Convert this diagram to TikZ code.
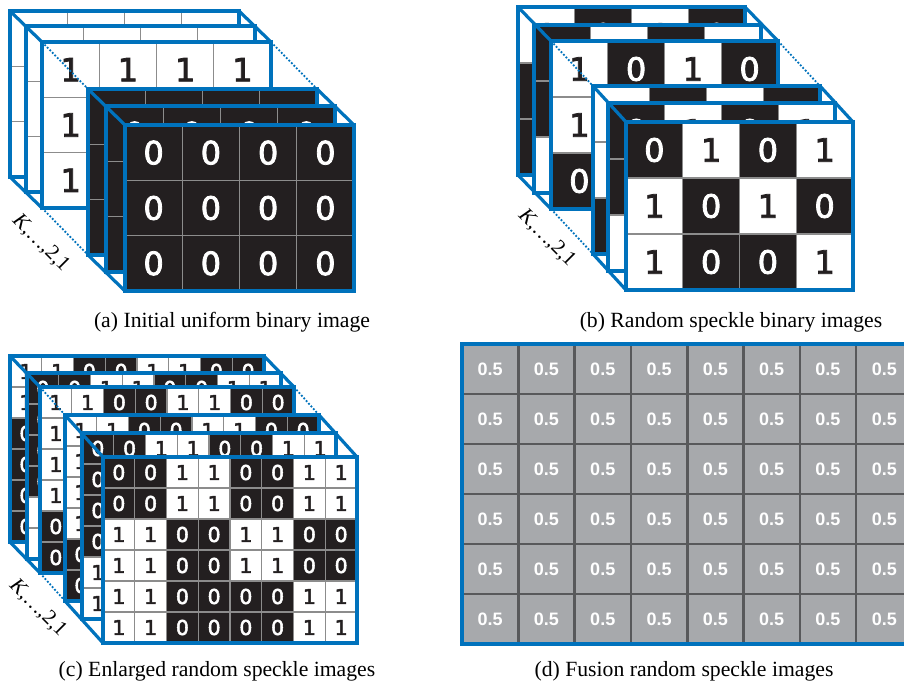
\documentclass[tikz,border=0pt]{standalone}
\usepackage{fontspec}
\setmainfont{Liberation Serif}
\newfontfamily\digitfont[FakeBold=2.5]{DejaVu Sans}
\newfontfamily\valuefont{Liberation Sans}
\usetikzlibrary{calc}

\definecolor{frameblue}{RGB}{0,114,188}
\definecolor{cellblack}{RGB}{35,31,32}
\definecolor{cellgray}{RGB}{167,169,172}
\definecolor{gridgray}{RGB}{140,140,140}
\definecolor{griddark}{RGB}{88,89,91}

\tikzset{
  frame/.style={draw=frameblue, line width=3.2pt, rectangle, outer sep=0pt, inner sep=0pt, anchor=north west},
  edge/.style={draw=frameblue, line width=3.2pt},
  dotedge/.style={draw=frameblue, line width=1.8pt, dash pattern=on 1.8pt off 1.8pt},
  cell/.style={draw=gridgray, line width=1.2pt},
  bit/.style={font=\digitfont\fontsize{\bitsize}{\bitsize}\selectfont, inner sep=0pt},
  fusecell/.style={fill=cellgray, draw=griddark, line width=2.6pt},
  fuseval/.style={font=\valuefont\bfseries\fontsize{18}{18}\selectfont, text=white, inner sep=0pt},
  caption/.style={font=\fontsize{21.7}{24}\selectfont, anchor=base},
  depth/.style={font=\fontsize{21}{24}\selectfont, rotate=-45, inner sep=0pt},
}

% cell values, 4 x 3, row by row
\def\ones{1,1,1,1,1,1,1,1,1,1,1,1}
\def\zeros{0,0,0,0,0,0,0,0,0,0,0,0}
\def\specA{1,0,1,0,0,1,0,1,0,0,1,1}
\def\specB{0,1,0,1,0,1,1,0,1,0,1,0}
\def\specC{1,0,1,0,1,1,0,0,0,1,0,1}
\def\specD{1,0,1,0,1,0,0,1,0,1,1,0}
\def\specE{0,1,0,1,0,1,1,0,1,0,0,1}
\def\specF{0,1,0,1,1,0,1,0,1,0,0,1}

% one binary frame: [1 = all digits shown], name, top left x, top left y, values
\newcommand{\bitframe}[5][0]{%
  \fill[white] (#3,#4) rectangle ++(\fw,\fh);
  \foreach \r in {1,...,\nrows}{
    \foreach \c in {1,...,\ncols}{
      \pgfmathtruncatemacro{\cellidx}{4*int((\r-1)*3/\nrows)+int((\c-1)*4/\ncols)}
      \pgfmathtruncatemacro{\bitval}{{#5}[\cellidx]}
      \pgfmathtruncatemacro{\showbit}{(#1==1) || (\r==1) || (\c==1)}
      \pgfmathsetmacro{\cx}{#3+(\c-1)*\fw/\ncols}
      \pgfmathsetmacro{\cy}{#4+(\r-1)*\fh/\nrows}
      \ifnum\bitval=0
        \filldraw[cell, fill=cellblack] (\cx,\cy) rectangle ++(\fw/\ncols,\fh/\nrows);
        \ifnum\showbit=1
          \node[bit, text=white] (#2-\r-\c) at (\cx+\fw/\ncols/2,\cy+\fh/\nrows/2) {0};
        \fi
      \else
        \filldraw[cell, fill=white] (\cx,\cy) rectangle ++(\fw/\ncols,\fh/\nrows);
        \ifnum\showbit=1
          \node[bit, text=cellblack] (#2-\r-\c) at (\cx+\fw/\ncols/2,\cy+\fh/\nrows/2) {1};
        \fi
      \fi
    }
  }
  \node[frame, minimum width=\fw pt, minimum height=\fh pt] (#2) at (#3,#4) {};
}

\begin{document}
\begin{tikzpicture}[x=1pt,y=-1pt]
\useasboundingbox (0,0) rectangle (904,685);
\clip (0,0) rectangle (904,685);

% (a)
\def\fw{229}\def\fh{166}\def\ncols{4}\def\nrows{3}\def\bitsize{32}
\bitframe{a1}{10}{11}{\ones}
\bitframe{a2}{26}{26}{\ones}
\bitframe{a3}{42}{42}{\ones}
\draw[edge] (a1.north west) -- (a3.north west) (a1.north east) -- (a3.north east) (a1.south west) -- (a3.south west);
\bitframe{a4}{88}{89}{\zeros}
\bitframe{a5}{106}{106}{\zeros}
\bitframe[1]{a6}{125}{125}{\zeros}
\draw[edge] (a4.north west) -- (a6.north west) (a4.north east) -- (a6.north east) (a4.south west) -- (a6.south west);
\draw[dotedge] (a3.north west) -- (a4.north west) (a3.north east) -- (a4.north east) (a3.south west) -- (a4.south west);
\node[depth] (ka) at (41,243) {\textit{K},…,2,1};
\node[caption] (capa) at (232,327) {(a) Initial uniform binary image};

% (b)
\def\fw{227}\def\fh{168}
\bitframe{b1}{518}{7}{\specA}
\bitframe{b2}{534}{25}{\specB}
\bitframe{b3}{551}{41}{\specC}
\draw[edge] (b1.north west) -- (b3.north west) (b1.north east) -- (b3.north east) (b1.south west) -- (b3.south west);
\bitframe{b4}{593}{86}{\specD}
\bitframe{b5}{608}{103}{\specE}
\bitframe[1]{b6}{626}{122}{\specF}
\draw[edge] (b4.north west) -- (b6.north west) (b4.north east) -- (b6.north east) (b4.south west) -- (b6.south west);
\draw[dotedge] (b3.north west) -- (b4.north west) (b3.north east) -- (b4.north east) (b3.south west) -- (b4.south west);
\node[depth] (kb) at (547,238) {\textit{K},…,2,1};
\node[caption] (capb) at (731,327) {(b) Random speckle binary images};

% (c)
\def\fw{254}\def\fh{186}\def\ncols{8}\def\nrows{6}\def\bitsize{20.5}
\bitframe{c1}{10}{356}{\specA}
\bitframe{c2}{27}{373}{\specB}
\bitframe{c3}{40}{387}{\specC}
\draw[edge] (c1.north west) -- (c3.north west) (c1.north east) -- (c3.north east) (c1.south west) -- (c3.south west);
\bitframe{c4}{65}{415}{\specD}
\bitframe{c5}{82}{433}{\specE}
\bitframe[1]{c6}{103}{457}{\specF}
\draw[edge] (c4.north west) -- (c6.north west) (c4.north east) -- (c6.north east) (c4.south west) -- (c6.south west);
\draw[dotedge] (c3.north west) -- (c4.north west) (c3.north east) -- (c4.north east) (c3.south west) -- (c4.south west);
\node[depth] (kc) at (38,608) {\textit{K},…,2,1};
\node[caption] (capc) at (217,676) {(c) Enlarged random speckle images};

% (d)
\foreach \r in {1,...,6}{
  \foreach \c in {1,...,8}{
    \filldraw[fusecell] ({462+(\c-1)*56.3},{344+(\r-1)*50}) rectangle ++(56.3,50);
    \node[fuseval] (d-\r-\c) at ({462+(\c-0.5)*56.3},{344+(\r-0.5)*50}) {0.5};
  }
}
\node[frame, minimum width=450.4pt, minimum height=300pt] (d) at (462,344) {};
\node[caption] (capd) at (684,676) {(d) Fusion random speckle images};
\end{tikzpicture}
\end{document}
